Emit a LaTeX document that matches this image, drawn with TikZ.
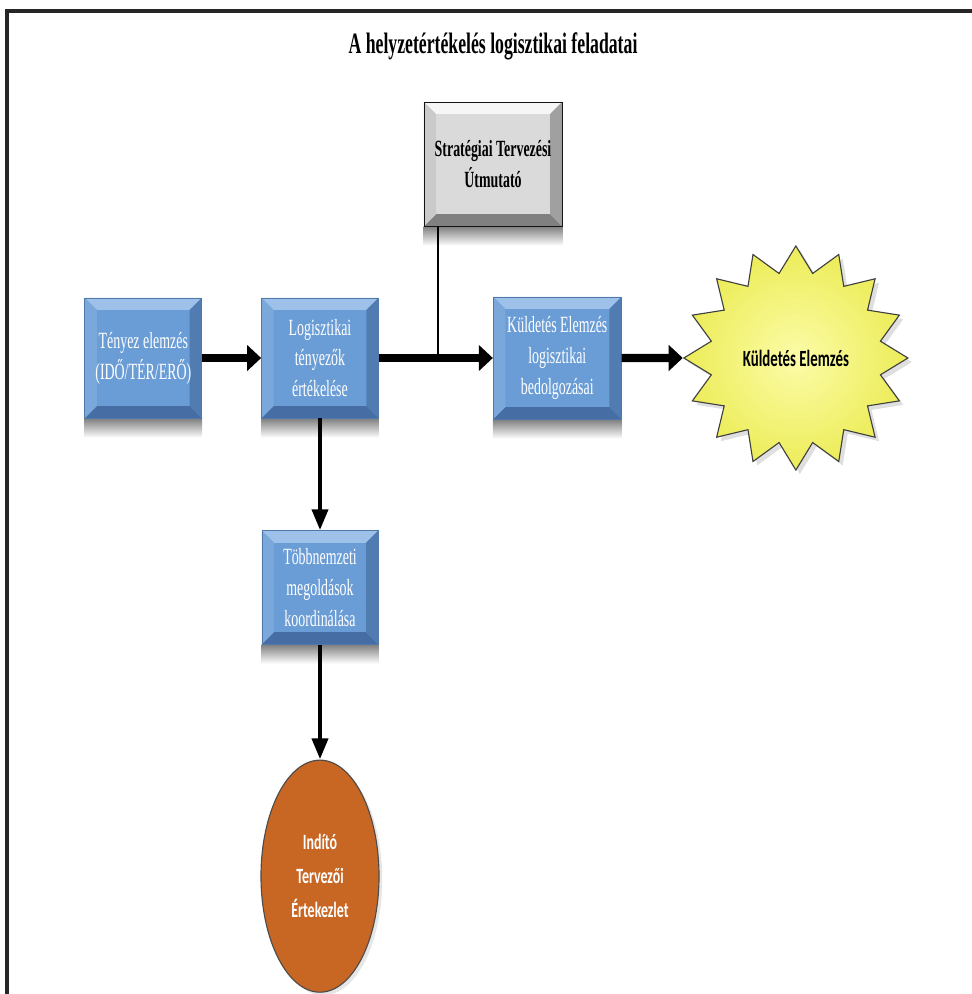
\documentclass[tikz,border=0pt]{standalone}
\usepackage{fontspec}
\usepackage{tikz}
\usetikzlibrary{calc,positioning,shapes.geometric,arrows.meta,backgrounds,shadows}
\newfontfamily\serifc[FakeStretch=0.6]{Liberation Serif}
\newfontfamily\sansc[FakeStretch=0.64]{Carlito}
\definecolor{bluface}{RGB}{106,157,214}
\definecolor{blutop}{RGB}{158,193,234}
\definecolor{bluleft}{RGB}{122,168,218}
\definecolor{bluright}{RGB}{80,124,178}
\definecolor{blubot}{RGB}{70,110,164}
\definecolor{bluline}{RGB}{80,120,170}
\definecolor{gryface}{RGB}{218,218,218}
\definecolor{grytop}{RGB}{246,246,246}
\definecolor{gryleft}{RGB}{202,202,202}
\definecolor{gryright}{RGB}{160,160,160}
\definecolor{grybot}{RGB}{128,128,128}
\definecolor{gryline}{RGB}{20,20,20}
\definecolor{staryellow}{RGB}{236,236,88}
\definecolor{starlight}{RGB}{252,252,168}
\definecolor{indorange}{RGB}{200,102,35}
\tikzset{bigarrow/.style={line width=5.7pt,-{Triangle[length=10pt,width=18pt]}},downarrow/.style={line width=3.5pt,-{Triangle[length=15pt,width=11pt]}}}

\begin{document}
\begin{tikzpicture}[x=0.025cm,y=-0.025cm]

\tikzset{bevelbox/.style={rectangle,fill=#1face,draw=#1line,line width=.6pt,inner sep=0pt,
  path picture={
    \coordinate (pnw) at (path picture bounding box.north west);
    \coordinate (pne) at (path picture bounding box.north east);
    \coordinate (psw) at (path picture bounding box.south west);
    \coordinate (pse) at (path picture bounding box.south east);
    \fill[#1top] (pnw) -- (pne) -- ([shift={(-3mm,-3mm)}]pne) -- ([shift={(3mm,-3mm)}]pnw) -- cycle;
    \fill[#1bot] (psw) -- (pse) -- ([shift={(-3mm,3mm)}]pse) -- ([shift={(3mm,3mm)}]psw) -- cycle;
    \fill[#1left] (pnw) -- (psw) -- ([shift={(3mm,3mm)}]psw) -- ([shift={(3mm,-3mm)}]pnw) -- cycle;
    \fill[#1right] (pne) -- (pse) -- ([shift={(-3mm,3mm)}]pse) -- ([shift={(-3mm,-3mm)}]pne) -- cycle;}},
bluebox/.style={bevelbox=blu,text=white,align=center,font=\serifc\fontsize{16.5}{22}\selectfont,minimum width=2.92cm,minimum height=3cm},
greybox/.style={bevelbox=gry,text=black,align=center,font=\serifc\bfseries\fontsize{16.5}{22}\selectfont},
starnode/.style={star,star points=16,star point ratio=1.3,minimum size=5.6cm,inner sep=0pt,inner color=starlight,outer color=staryellow,draw=black!75,line width=.8pt,font=\sansc\bfseries\fontsize{16.5}{19}\selectfont,drop shadow={shadow xshift=.1cm,shadow yshift=-.1cm,opacity=.25}},
ovalnode/.style={ellipse,minimum width=2.95cm,minimum height=5.8cm,fill=indorange,draw=black!70,line width=.8pt,text=white,align=center,font=\sansc\bfseries\fontsize{15.5}{24}\selectfont,drop shadow={shadow xshift=.08cm,shadow yshift=-.08cm,opacity=.2}}}

\useasboundingbox (0,0) rectangle (972,994);

% Frame
\draw[line width=2.2pt,black!85] (7,994) -- (7,11) -- (972,11);

% Title
\node (title) at (493,46) {\serifc\bfseries\fontsize{21}{24}\selectfont A helyzetértékelés logisztikai feladatai};

% Boxes
\node (logi) [bluebox] at (320,358) {Logisztikai\\tényezők\\értékelése};
\node (teny) [bluebox,left=1.475cm of logi] {Tényez elemzés\\(IDŐ/TÉR/ERŐ)};
\node (kuld) [bluebox,right=2.85cm of logi,minimum width=3.2cm,minimum height=3.05cm] {Küldetés Elemzés\\logisztikai\\bedolgozásai};
\node (tobb) [bluebox,below=2.8cm of logi,minimum width=2.9cm,minimum height=2.83cm] {Többnemzeti\\megoldások\\koordinálása};
\node (strat) [greybox,minimum width=3.45cm,minimum height=3.1cm] at (493,164) {Stratégiai Tervezési\\Útmutató};

% Star and oval
\node (star) [starnode,right=1.525cm of kuld] {Küldetés Elemzés};
\node (indito) [ovalnode,below=2.875cm of tobb] {Indító\\Tervezői\\Értekezlet};

% Shadows under the boxes
\begin{scope}[on background layer]
\foreach \b in {teny,logi,kuld,tobb,strat}
  \shade[top color=black!50,bottom color=white] ([yshift=-.48cm]\b.south west) rectangle (\b.south east);
\end{scope}

% Arrows
\draw[bigarrow] (teny) -- (logi);
\draw[bigarrow] (logi) -- (kuld);
\draw[bigarrow] (kuld) -- (star);
\draw[downarrow] (logi) -- (tobb);
\draw[downarrow] (tobb) -- (indito);

% Guidance line
\coordinate (tap) at (438,358);
\draw[line width=.8pt] (strat.south -| tap) -- (tap);

\end{tikzpicture}
\end{document}
